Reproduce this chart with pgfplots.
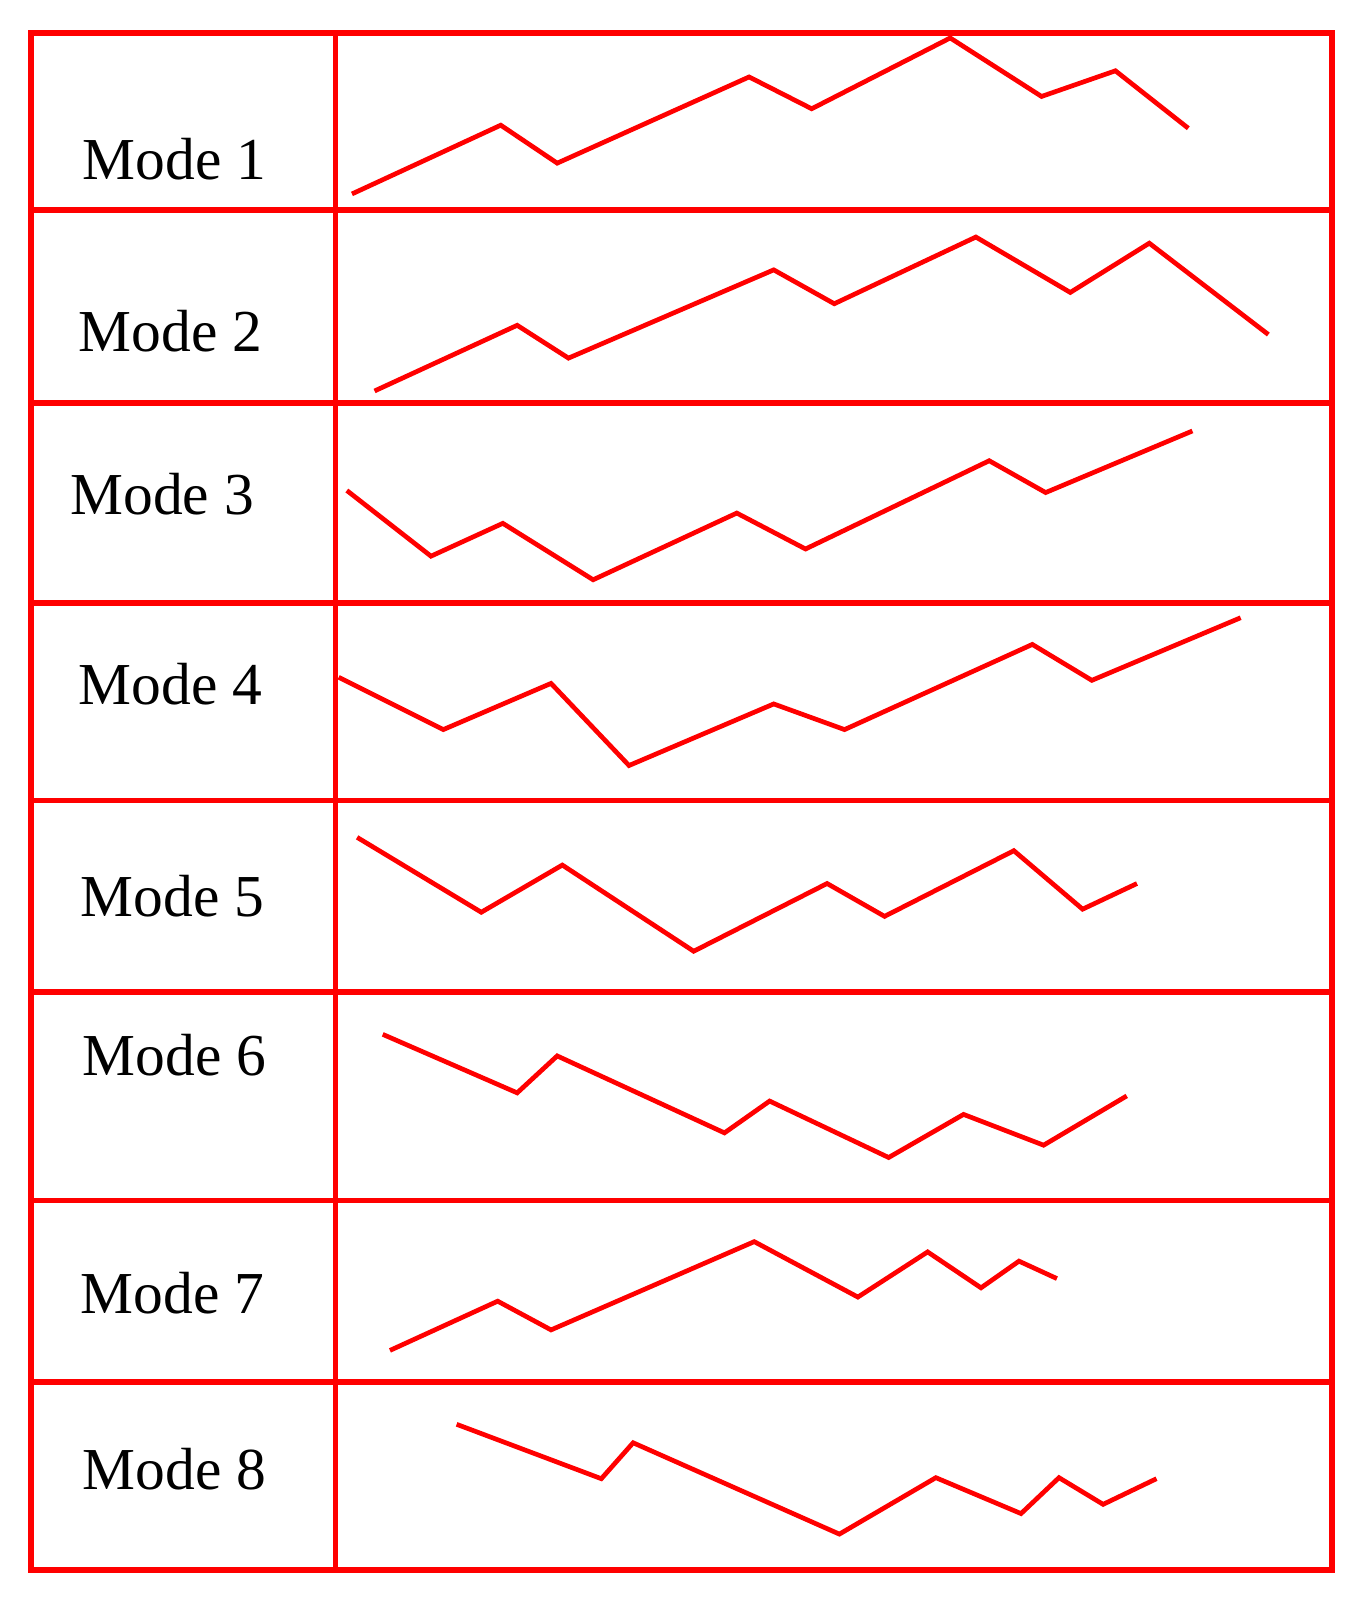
\documentclass[border=0pt]{standalone}
\usepackage{pgfplots}
\pgfplotsset{compat=1.18}
\usepackage{fontspec}
\setmainfont{Liberation Serif}

\begin{document}
\begin{tikzpicture}
\begin{axis}[
    scale only axis,
    width=12.68cm,
    height=14.98cm,
    xmin=30, xmax=1298,
    ymin=32, ymax=1530,
    y dir=reverse,
    clip=false,
    xtick=\empty, ytick=\empty,
    extra x ticks={327},
    extra y ticks={205,393,588,780,967,1170,1347},
    extra x tick labels={}, extra y tick labels={},
    extra tick style={grid=major, major tick length=0pt},
    major grid style={red, line width=1.6pt},
    axis line style={red, line width=1.6pt},
    zig/.style={red, line width=1.3pt, mark=none, line join=miter},
    nodes={font=\fontsize{16.5}{19}\selectfont, text=black},
]
\path (axis cs:0,0) rectangle (axis cs:1335,1568);

% Mode 1
\addplot[zig] coordinates {(343,189) (488,122) (543,159) (730,75) (791,106) (926,37) (1015,94) (1087,69) (1158,125)};
% Mode 2
\addplot[zig] coordinates {(365,381) (504,317) (554,349) (754,263) (813,296) (951,231) (1043,285) (1120,237) (1236,326)};
% Mode 3
\addplot[zig] coordinates {(338,478) (420,542) (490,510) (578,565) (718,500) (785,535) (964,449) (1019,480) (1162,420)};
% Mode 4
\addplot[zig] coordinates {(330,660) (432,711) (537,666) (613,746) (754,686) (823,711) (1006,628) (1064,663) (1209,602)};
% Mode 5
\addplot[zig] coordinates {(348,816) (469,889) (548,843) (676,927) (806,861) (862,893) (988,829) (1055,886) (1108,861)};
% Mode 6
\addplot[zig] coordinates {(373,1008) (504,1065) (543,1029) (706,1104) (750,1073) (866,1128) (939,1086) (1017,1116) (1098,1068)};
% Mode 7
\addplot[zig] coordinates {(380,1316) (485,1268) (537,1296) (735,1210) (836,1264) (904,1220) (956,1255) (993,1229) (1030,1246)};
% Mode 8
\addplot[zig] coordinates {(445,1388) (586,1441) (617,1406) (818,1495) (912,1440) (995,1475) (1032,1440) (1075,1466) (1127,1441)};

\node at (axis cs:170,155) {Mode 1};
\node at (axis cs:166,323) {Mode 2};
\node at (axis cs:158,482) {Mode 3};
\node at (axis cs:166,667) {Mode 4};
\node at (axis cs:168,873) {Mode 5};
\node at (axis cs:170,1028) {Mode 6};
\node at (axis cs:168,1260) {Mode 7};
\node at (axis cs:170,1432) {Mode 8};
\end{axis}
\end{tikzpicture}
\end{document}
